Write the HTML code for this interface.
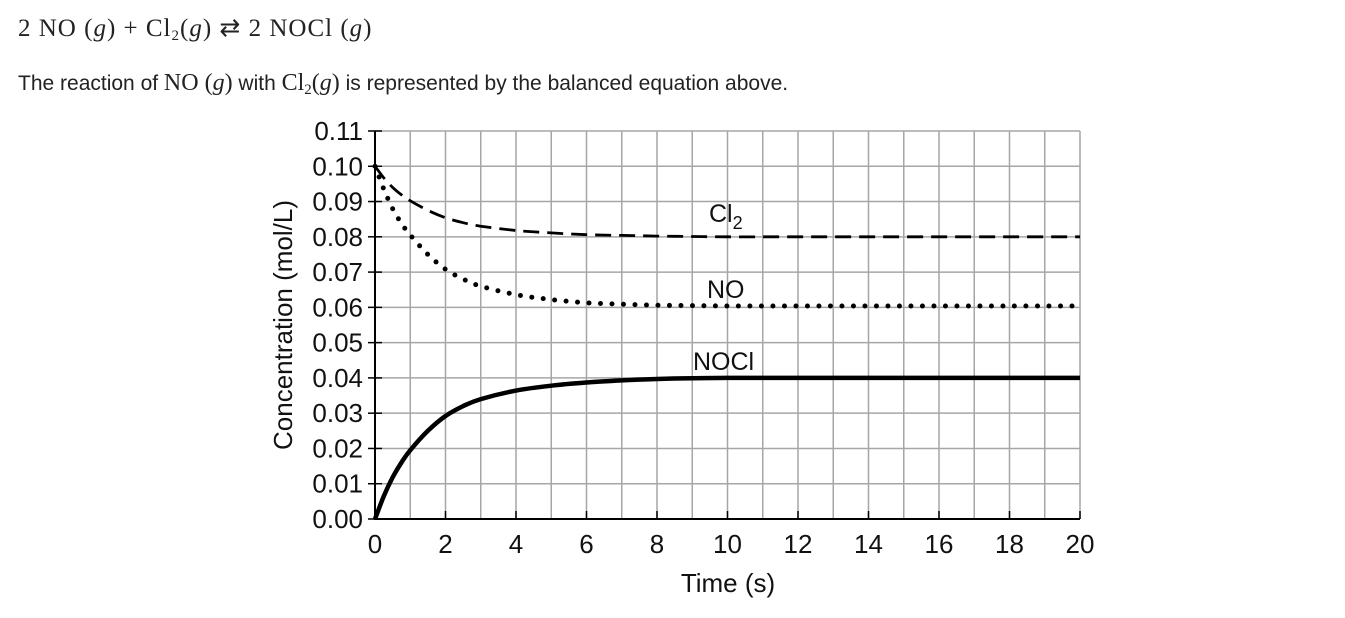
<!DOCTYPE html>
<html><head><meta charset="utf-8"><style>
body{margin:0;width:1345px;height:618px;background:#fff;overflow:hidden;position:relative}
.eq{position:absolute;left:18px;top:13px;font:25px "Liberation Serif",serif;color:#222;letter-spacing:1px}
.txt{position:absolute;left:18px;top:70px;font:21px "Liberation Sans",sans-serif;color:#222}
.txt i,.eq i{font-family:"Liberation Serif",serif}
.s{font-family:"Liberation Serif",serif;font-size:24px}
sub{font-size:15px;vertical-align:-4px}
svg{position:absolute;left:0;top:0}
</style></head><body>
<div class="eq">2 NO (<i>g</i>) + Cl<sub>2</sub>(<i>g</i>) ⇄ 2 NOCl (<i>g</i>)</div>
<div class="txt">The reaction of <span class="s">NO (<i>g</i>)</span> with <span class="s">Cl<sub>2</sub>(<i>g</i>)</span> is represented by the balanced equation above.</div>
<svg id="chart" width="1345" height="618"></svg>
<script>
const times=[0,0.25,0.5,0.75,1,1.5,2,2.5,3,4,5,6,7,8,9,10,12,14,16,18,20];
const noVals=[0.1,0.0935,0.088,0.0838,0.0805,0.075,0.0708,0.068,0.066,0.0636,0.0622,0.0613,0.0609,0.0606,0.0605,0.0604,0.0604,0.0604,0.0604,0.0604,0.0604];
const cl2Vals=[0.1,0.0967,0.094,0.0919,0.0902,0.0875,0.0854,0.084,0.083,0.0818,0.0811,0.0806,0.0804,0.0802,0.0801,0.08,0.08,0.08,0.08,0.08,0.08];
const noclVals=[0,0.0065,0.0118,0.016,0.0195,0.025,0.0292,0.032,0.034,0.0364,0.0378,0.0387,0.0393,0.0397,0.0399,0.04,0.04,0.04,0.04,0.04,0.04];
const yTicks=["0.00","0.01","0.02","0.03","0.04","0.05","0.06","0.07","0.08","0.09","0.10","0.11"];
const xTicks=["0","2","4","6","8","10","12","14","16","18","20"];
const X=t=>375+t*35.25, Y=v=>519-v*3527.3;
const svg=document.getElementById('chart'), NS='http://www.w3.org/2000/svg';
function mk(tag,a,parent){const e=document.createElementNS(NS,tag);for(const k in a)e.setAttribute(k,a[k]);(parent||svg).appendChild(e);return e;}
for(let t=1;t<=20;t++){const l=mk('line',{x1:X(t),x2:X(t),y1:Y(0.11),y2:Y(0),stroke:'#a6a6a6','stroke-width':1.5});

}
for(let i=1;i<=11;i++){const l=mk('line',{x1:X(0),x2:X(20),y1:Y(i*0.01),y2:Y(i*0.01),stroke:'#a6a6a6','stroke-width':1.5});

}
const ax=mk('line',{x1:X(0),x2:X(0),y1:Y(0.11),y2:Y(0)+1,stroke:'#000','stroke-width':2});


const bx=mk('line',{x1:X(0)-1,x2:X(20),y1:Y(0),y2:Y(0),stroke:'#000','stroke-width':2});


const F='Liberation Sans, sans-serif';
yTicks.forEach((s,i)=>{const y=Y(i*0.01);
mk('line',{x1:X(0)-7,x2:X(0)+7,y1:y,y2:y,stroke:'#000','stroke-width':1.5});
const t=mk('text',{x:363,y:y+9,'text-anchor':'end','font-family':F,'font-size':26,fill:'#111'});t.textContent=s;

});
xTicks.forEach(s=>{const x=X(+s);
mk('line',{x1:x,x2:x,y1:Y(0)-8,y2:Y(0),stroke:'#000','stroke-width':1.5});
const t=mk('text',{x:x,y:553,'text-anchor':'middle','font-family':F,'font-size':26,fill:'#111'});t.textContent=s;

});
const xt=mk('text',{x:728,y:592,'text-anchor':'middle','font-family':F,'font-size':26,fill:'#111'});xt.textContent='Time (s)';


const yt=mk('text',{x:0,y:0,transform:'translate(292,325) rotate(-90)','text-anchor':'middle','font-family':F,'font-size':26,fill:'#111'});yt.textContent='Concentration (mol/L)';


function path(vals){const P=times.map((t,i)=>[X(t),Y(vals[i])]);let d='M'+P[0][0]+','+P[0][1];
for(let i=0;i<P.length-1;i++){const p0=P[Math.max(0,i-1)],p1=P[i],p2=P[i+1],p3=P[Math.min(P.length-1,i+2)];
const c1=[p1[0]+(p2[0]-p0[0])/6,p1[1]+(p2[1]-p0[1])/6],c2=[p2[0]-(p3[0]-p1[0])/6,p2[1]-(p3[1]-p1[1])/6];
d+='C'+c1.map(v=>v.toFixed(1)).join(',')+' '+c2.map(v=>v.toFixed(1)).join(',')+' '+p2.map(v=>v.toFixed(1)).join(',');}
return d;}
const cl=mk('path',{d:path(cl2Vals),fill:'none',stroke:'#000','stroke-width':2.8,'stroke-dasharray':'16 8'});


const no=mk('path',{d:path(noVals),fill:'none',stroke:'#000','stroke-width':5,'stroke-linecap':'round','stroke-dasharray':'0 11.5'});


const nc=mk('path',{d:path(noclVals),fill:'none',stroke:'#000','stroke-width':4.5});


function lab(x,y,txt,name){const t=mk('text',{x:x,y:y,'font-family':F,'font-size':25,fill:'#111'});t.innerHTML=txt;

}
lab(709,222,'Cl<tspan font-size="18" dy="7">2</tspan>','cl2-label');
lab(707,298,'NO','no-label');
lab(693,370,'NOCl','nocl-label');
</script>
</body></html>
